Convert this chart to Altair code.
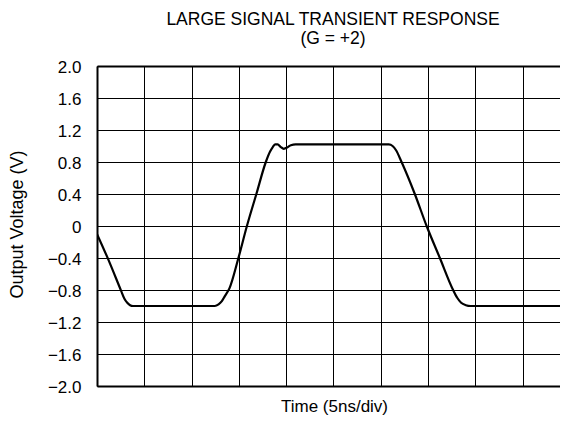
import altair as alt
import pandas as pd

# Waveform (time in divisions of 5 ns, output in V)
time_div = [0.00, 0.24, 0.51, 0.58, 0.64, 0.70, 0.76, 1.50, 2.49, 2.57, 2.64, 2.70,
            2.80, 2.99, 3.17, 3.37, 3.57, 3.66, 3.72, 3.77, 3.82, 3.88, 3.95, 4.02,
            4.10, 4.20, 5.20, 6.17, 6.25, 6.32, 6.44, 6.72, 6.97, 7.25, 7.53, 7.62,
            7.70, 7.80, 7.90, 8.80, 9.78, 9.84, 9.90, 9.96]
volts = [-0.10, -0.42, -0.81, -0.91, -0.96, -0.99, -1.00, -1.00, -1.00, -0.98, -0.94, -0.88,
         -0.78, -0.40, 0.00, 0.40, 0.80, 0.93, 0.99, 1.02, 1.02, 0.99, 0.965, 0.98,
         1.01, 1.02, 1.02, 1.02, 1.00, 0.95, 0.80, 0.40, 0.00, -0.40, -0.80, -0.90,
         -0.96, -0.99, -1.00, -1.00, -1.00, -0.97, -0.90, -0.79]

y_ticks = [-2.0, -1.6, -1.2, -0.8, -0.4, 0, 0.4, 0.8, 1.2, 1.6, 2.0]
x_ticks = [0, 1, 2, 3, 4, 5, 6, 7, 8, 9]

df = pd.DataFrame({"t": time_div, "v": volts})

FONT = "Liberation Sans"
xscale = alt.Scale(domain=[0, 9.79], nice=False, zero=False)
yscale = alt.Scale(domain=[-2, 2], nice=False, zero=False)

line = alt.Chart(df).mark_line(
    color="black", strokeWidth=2.2, clip=True, interpolate="monotone"
).encode(
    x=alt.X("t:Q", scale=xscale, axis=alt.Axis(
        values=x_ticks, labels=False, ticks=False, grid=True,
        gridColor="black", gridOpacity=1, gridWidth=1,
        domainColor="black", domainWidth=2,
        title="Time (5ns/div)", titleFont=FONT, titleFontSize=17,
        titleFontWeight="normal", titleColor="black",
        titleX=237, titleY=25.5, titleBaseline="alphabetic")),
    y=alt.Y("v:Q", scale=yscale, axis=alt.Axis(
        values=y_ticks, ticks=False, grid=True,
        gridColor="black", gridOpacity=1, gridWidth=1,
        domainColor="black", domainWidth=2,
        labelExpr="datum.value == 0 ? '0' : format(datum.value, '.1f')",
        labelFont=FONT, labelFontSize=17, labelColor="black", labelPadding=16,
        labelOffset=1.5,
        title="Output Voltage (V)", titleFont=FONT, titleFontSize=18,
        titleFontWeight="normal", titleColor="black",
        titleX=-75, titleY=158, titleBaseline="alphabetic")),
)

top_frame = alt.Chart(df).mark_point(opacity=0).encode(
    x=alt.X("t:Q", scale=xscale, axis=alt.Axis(
        orient="top", labels=False, ticks=False, grid=False,
        domainColor="black", domainWidth=2, title=None)),
    y=alt.Y("v:Q", scale=yscale, axis=None),
)

chart = alt.layer(line, top_frame).resolve_axis(
    x="independent", y="independent"
).properties(
    width=463, height=320,
    padding={"left": 89, "top": 58, "right": 0, "bottom": 29},
    autosize=alt.AutoSizeParams(type="none"),
    title=alt.TitleParams(
        text=["LARGE SIGNAL TRANSIENT RESPONSE", "(G = +2)"],
        font=FONT, fontSize=17.5, fontWeight="normal", color="black",
        lineHeight=19, anchor="middle", offset=11.5, dx=4.5),
).configure_view(stroke=None)

chart.save("out.html", embed_options={"renderer": "svg", "actions": False})
